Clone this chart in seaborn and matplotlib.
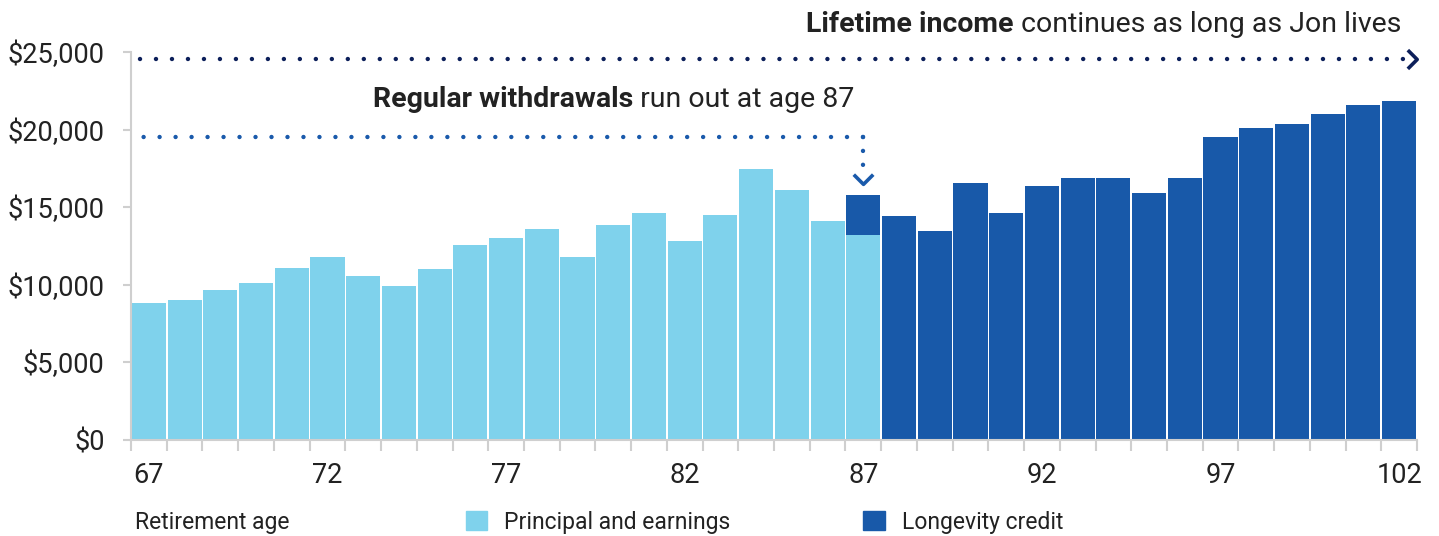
import matplotlib
matplotlib.use("Agg")
import matplotlib.pyplot as plt
import seaborn as sns
import pandas as pd
import numpy as np
from matplotlib.path import Path
from matplotlib.patches import Patch

# ---------------- data ----------------
ages = [67, 68, 69, 70, 71, 72, 73, 74, 75, 76, 77, 78, 79, 80, 81, 82, 83, 84,
        85, 86, 87, 88, 89, 90, 91, 92, 93, 94, 95, 96, 97, 98, 99, 100, 101, 102]
principal = [8850, 9050, 9700, 10100, 11100, 11800, 10600, 9950, 11000, 12600,
             13000, 13600, 11800, 13850, 14650, 12850, 14500, 17450, 16100, 14150,
             13200, 0, 0, 0, 0, 0, 0, 0, 0, 0, 0, 0, 0, 0, 0, 0]
longevity = [0, 0, 0, 0, 0, 0, 0, 0, 0, 0, 0, 0, 0, 0, 0, 0, 0, 0, 0, 0,
             2600, 14450, 13450, 16600, 14650, 16350, 16900, 16900, 15950, 16900,
             19550, 20100, 20400, 21050, 21600, 21850]
tick_ages = [67, 72, 77, 82, 87, 92, 97, 102]
yticks = [0, 5000, 10000, 15000, 20000, 25000]
series_labels = ["Principal and earnings", "Longevity credit"]
x_label = "Retirement age"
lifetime_bold = "Lifetime income"
lifetime_rest = " continues as long as Jon lives"
regular_bold = "Regular withdrawals"
regular_rest = " run out at age 87"
lifetime_level = 24600
regular_level = 19550
runout_age = 87

LIGHT = "#7fd2ec"
DARK = "#1859a9"
NAVY = "#0c1f5a"
MID = "#1a5aab"
TXT = "#222222"
GREY = "#cfcfcf"

sns.set_theme(style="white")
plt.rcParams["font.family"] = ["Roboto", "DejaVu Sans"]
plt.rcParams["lines.scale_dashes"] = False

W, H = 1439, 536
fig = plt.figure(figsize=(W / 100, H / 100), dpi=100)
L, R, B, T = 131, 1417, 440, 52.3
ax = fig.add_axes([L / W, 1 - B / H, (R - L) / W, (B - T) / H])

df = pd.DataFrame({"age": ages, "principal": principal, "longevity": longevity})
df["total"] = df["principal"] + df["longevity"]

sns.barplot(data=df, x="age", y="total", color=DARK, saturation=1, width=0.955,
            linewidth=0, errorbar=None, ax=ax)
sns.barplot(data=df, x="age", y="principal", color=LIGHT, saturation=1, width=0.955,
            linewidth=0, errorbar=None, ax=ax)

n = len(ages)
ax.set_xlim(-0.5, n - 0.5)
ax.set_ylim(0, 25000)
ax.set_xlabel("")
ax.set_ylabel("")

ax.set_yticks(yticks)
ax.set_yticklabels([f"${v:,}" for v in yticks])
ax.set_xticks([ages.index(a) for a in tick_ages])
ax.set_xticklabels([str(a) for a in tick_ages])
ax.set_xticks(np.arange(-0.5, n, 1.0), minor=True)

ax.tick_params(axis="x", which="major", length=0, pad=16, labelsize=19.5, labelcolor=TXT)
ax.tick_params(axis="x", which="minor", length=8, width=1.5, color=GREY, bottom=True)
ax.tick_params(axis="y", which="major", length=6, width=1.5, color=GREY, pad=13,
               labelsize=19.5, labelcolor=TXT, left=True)
for s in ["top", "right"]:
    ax.spines[s].set_visible(False)
for s in ["left", "bottom"]:
    ax.spines[s].set_color(GREY)
    ax.spines[s].set_linewidth(1.5)

slot = (R - L) / n


def px2x(px):
    return -0.5 + (px - L) / slot


def vpx(py):
    return (B - py) / (B - T) * 25000


# chevron markers
right_chev = Path([(-0.5, 1), (0.5, 0), (-0.5, -1)], [Path.MOVETO, Path.LINETO, Path.LINETO])
down_chev = Path([(-1, 0.5), (0, -0.5), (1, 0.5)], [Path.MOVETO, Path.LINETO, Path.LINETO])

# Lifetime income dotted line
ax.plot([px2x(140), px2x(1403)], [lifetime_level, lifetime_level], color=NAVY, lw=3.2,
        ls=(0, (0.01, 11.5)), dash_capstyle="round", clip_on=False)
ax.plot([px2x(1412)], [lifetime_level], marker=right_chev, ms=13.5, mew=2.6,
        mec=NAVY, fillstyle="none", ls="none", clip_on=False)

# Regular withdrawals dotted line
xr = ages.index(runout_age)
ax.plot([xr, px2x(138)], [regular_level, regular_level], color=MID, lw=3.2,
        ls=(0, (0.01, 11.5)), dash_capstyle="round", clip_on=False)
ax.plot([xr, xr], [regular_level, vpx(166)], color=MID, lw=3.2,
        ls=(0, (0.01, 10.0)), dash_capstyle="round", clip_on=False)
ax.plot([xr], [vpx(179)], marker=down_chev, ms=14, mew=2.6,
        mec=MID, fillstyle="none", ls="none", clip_on=False)

# annotations text
t1 = fig.text(806 / W, 1 - 32 / H, lifetime_bold, fontsize=20.5, fontweight="bold",
              color=TXT, va="baseline", ha="left")
ax.annotate(lifetime_rest, xy=(1, 0), xycoords=t1, va="bottom", ha="left",
            fontsize=20.5, color=TXT, annotation_clip=False)
t2 = fig.text(373 / W, 1 - 107 / H, regular_bold, fontsize=20.5, fontweight="bold",
              color=TXT, va="baseline", ha="left")
ax.annotate(regular_rest, xy=(1, 0), xycoords=t2, va="bottom", ha="left",
            fontsize=20.5, color=TXT, annotation_clip=False)

# bottom row: axis title and legend
fig.text(135 / W, 1 - 522 / H, x_label, fontsize=16.5, color=TXT, va="center", ha="left")
handles = [Patch(color=LIGHT, label=series_labels[0]), Patch(color=DARK, label=series_labels[1])]
fig.legend(handles=handles, loc="center left", bbox_to_anchor=(466 / W, 1 - 522 / H),
           ncol=2, frameon=False, fontsize=16.5, handlelength=0.92, handleheight=0.92,
           handletextpad=0.75, columnspacing=5.8, borderpad=0, borderaxespad=0,
           labelcolor=TXT)

fig.savefig("out.png", dpi=100)
